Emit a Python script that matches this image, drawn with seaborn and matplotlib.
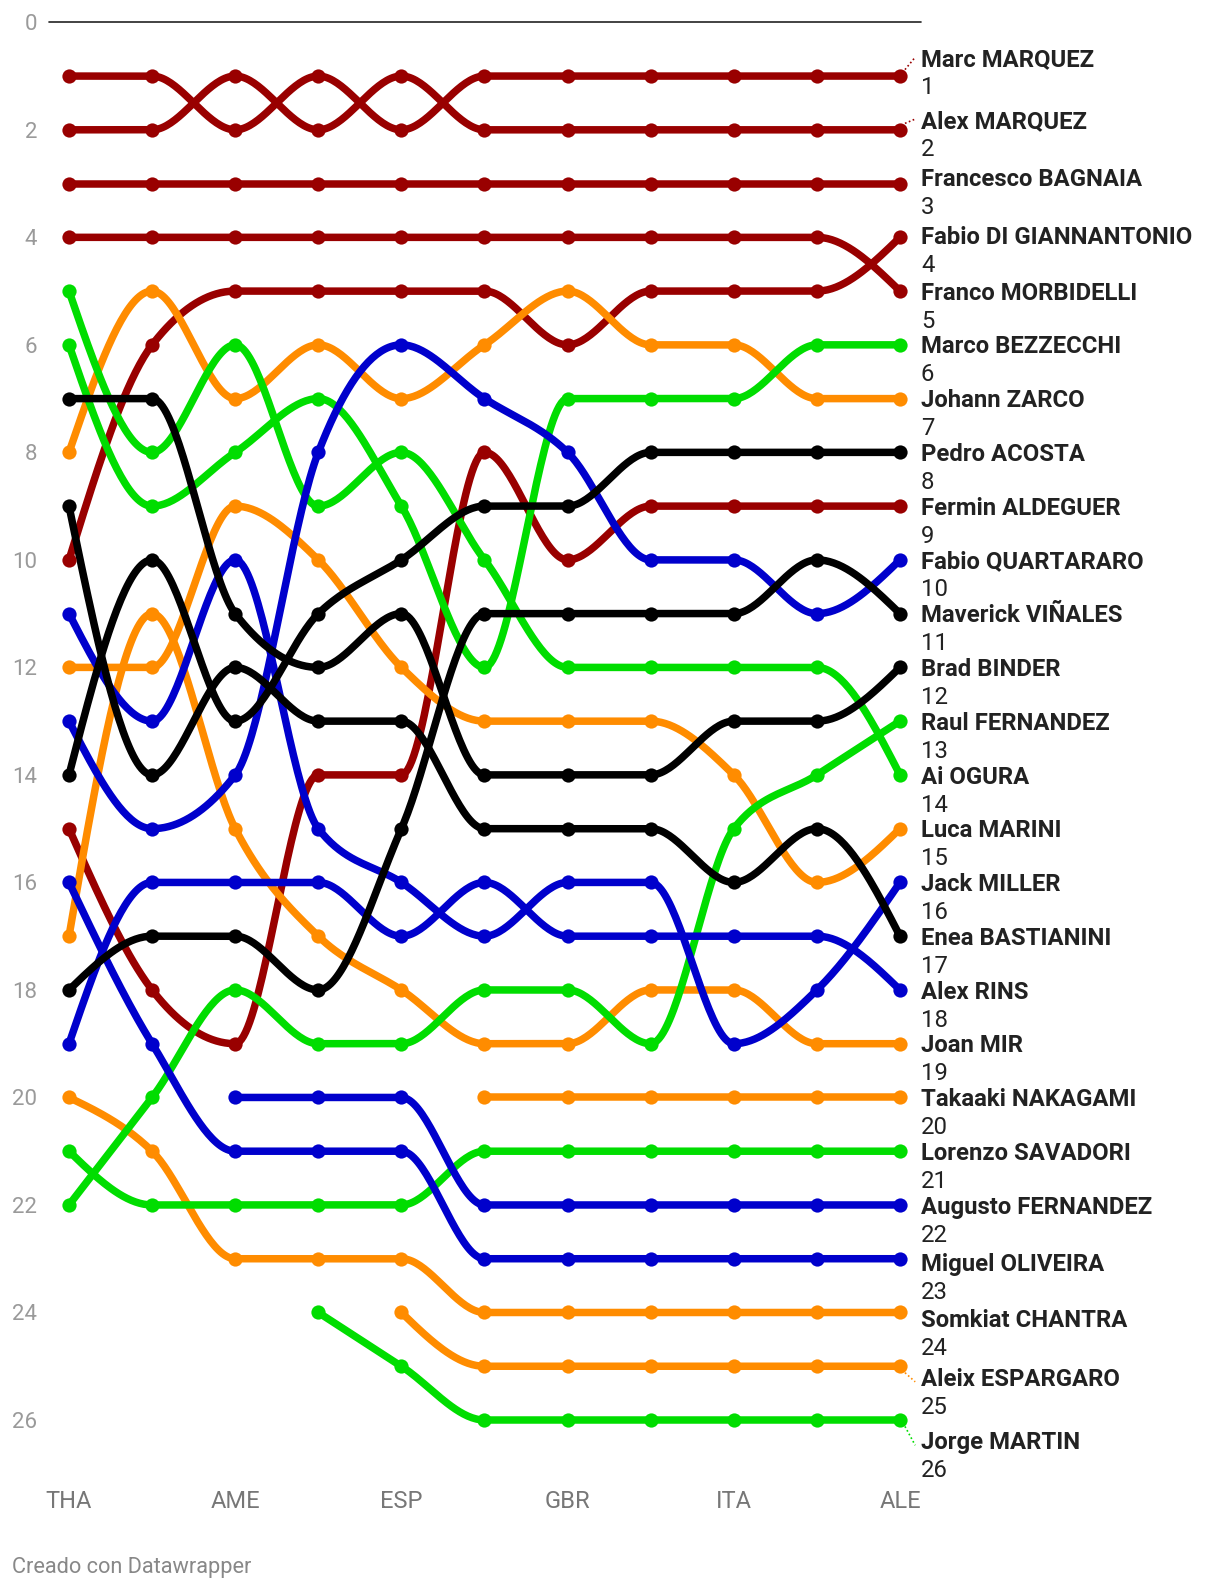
import numpy as np
import pandas as pd
import matplotlib
matplotlib.use("Agg")
import matplotlib.pyplot as plt
import seaborn as sns

N = np.nan
races = ["THA", "ARG", "AME", "QAT", "ESP", "FRA", "GBR", "ARA", "ITA", "NED", "ALE"]
shown_races = ["THA", "AME", "ESP", "GBR", "ITA", "ALE"]

marc_marquez          = [1, 1, 2, 1, 2, 1, 1, 1, 1, 1, 1]
alex_marquez          = [2, 2, 1, 2, 1, 2, 2, 2, 2, 2, 2]
francesco_bagnaia     = [3, 3, 3, 3, 3, 3, 3, 3, 3, 3, 3]
fabio_di_giannantonio = [10, 6, 5, 5, 5, 5, 6, 5, 5, 5, 4]
franco_morbidelli     = [4, 4, 4, 4, 4, 4, 4, 4, 4, 4, 5]
marco_bezzecchi       = [6, 9, 8, 7, 9, 12, 7, 7, 7, 6, 6]
johann_zarco          = [8, 5, 7, 6, 7, 6, 5, 6, 6, 7, 7]
pedro_acosta          = [14, 10, 13, 11, 10, 9, 9, 8, 8, 8, 8]
fermin_aldeguer       = [15, 18, 19, 14, 14, 8, 10, 9, 9, 9, 9]
fabio_quartararo      = [13, 15, 14, 8, 6, 7, 8, 10, 10, 11, 10]
maverick_vinales      = [18, 17, 17, 18, 15, 11, 11, 11, 11, 10, 11]
brad_binder           = [7, 7, 11, 12, 11, 14, 14, 14, 13, 13, 12]
raul_fernandez        = [22, 20, 18, 19, 19, 18, 18, 19, 15, 14, 13]
ai_ogura              = [5, 8, 6, 9, 8, 10, 12, 12, 12, 12, 14]
luca_marini           = [12, 12, 9, 10, 12, 13, 13, 13, 14, 16, 15]
jack_miller           = [11, 13, 10, 15, 16, 17, 16, 16, 19, 18, 16]
enea_bastianini       = [9, 14, 12, 13, 13, 15, 15, 15, 16, 15, 17]
alex_rins             = [19, 16, 16, 16, 17, 16, 17, 17, 17, 17, 18]
joan_mir              = [17, 11, 15, 17, 18, 19, 19, 18, 18, 19, 19]
takaaki_nakagami      = [N, N, N, N, N, 20, 20, 20, 20, 20, 20]
lorenzo_savadori      = [21, 22, 22, 22, 22, 21, 21, 21, 21, 21, 21]
augusto_fernandez     = [N, N, 20, 20, 20, 22, 22, 22, 22, 22, 22]
miguel_oliveira       = [16, 19, 21, 21, 21, 23, 23, 23, 23, 23, 23]
somkiat_chantra       = [20, 21, 23, 23, 23, 24, 24, 24, 24, 24, 24]
aleix_espargaro       = [N, N, N, N, 24, 25, 25, 25, 25, 25, 25]
jorge_martin          = [N, N, N, 24, 25, 26, 26, 26, 26, 26, 26]

rider_names = ["Marc MARQUEZ", "Alex MARQUEZ", "Francesco BAGNAIA", "Fabio DI GIANNANTONIO",
               "Franco MORBIDELLI", "Marco BEZZECCHI", "Johann ZARCO", "Pedro ACOSTA",
               "Fermin ALDEGUER", "Fabio QUARTARARO", "Maverick VIÑALES", "Brad BINDER",
               "Raul FERNANDEZ", "Ai OGURA", "Luca MARINI", "Jack MILLER", "Enea BASTIANINI",
               "Alex RINS", "Joan MIR", "Takaaki NAKAGAMI", "Lorenzo SAVADORI",
               "Augusto FERNANDEZ", "Miguel OLIVEIRA", "Somkiat CHANTRA", "Aleix ESPARGARO",
               "Jorge MARTIN"]
rider_teams = ["Ducati", "Ducati", "Ducati", "Ducati", "Ducati", "Aprilia", "Honda", "KTM",
               "Ducati", "Yamaha", "KTM", "KTM", "Aprilia", "Aprilia", "Honda", "Yamaha", "KTM",
               "Yamaha", "Honda", "Honda", "Aprilia", "Yamaha", "Yamaha", "Honda", "Honda",
               "Aprilia"]
rider_ranks = [marc_marquez, alex_marquez, francesco_bagnaia, fabio_di_giannantonio,
               franco_morbidelli, marco_bezzecchi, johann_zarco, pedro_acosta, fermin_aldeguer,
               fabio_quartararo, maverick_vinales, brad_binder, raul_fernandez, ai_ogura,
               luca_marini, jack_miller, enea_bastianini, alex_rins, joan_mir, takaaki_nakagami,
               lorenzo_savadori, augusto_fernandez, miguel_oliveira, somkiat_chantra,
               aleix_espargaro, jorge_martin]

team_colors = {"Ducati": "#990000", "Honda": "#ff8c00", "Aprilia": "#00dd00",
               "Yamaha": "#0000cc", "KTM": "#000000"}

# label vertical shifts (layout only, rank units) to avoid overlaps at the ends
label_shift = {1: -0.34, 2: -0.19, 3: -0.11, 4: -0.04, 23: 0.06, 24: 0.11, 25: 0.2, 26: 0.38}


def monotone_x(xs, ys, n=40):
    """d3 curveMonotoneX equivalent."""
    xs = np.asarray(xs, float)
    ys = np.asarray(ys, float)
    m = len(xs)
    if m < 3:
        return xs, ys
    h = np.diff(xs)
    s = np.diff(ys) / h
    t = np.zeros(m)
    for i in range(1, m - 1):
        s0, s1 = s[i - 1], s[i]
        p = (s0 * h[i] + s1 * h[i - 1]) / (h[i - 1] + h[i])
        t[i] = (np.sign(s0) + np.sign(s1)) * min(abs(s0), abs(s1), 0.5 * abs(p))
    t[0] = (3 * s[0] - t[1]) / 2
    t[-1] = (3 * s[-1] - t[-2]) / 2
    ox, oy = [], []
    for i in range(m - 1):
        u = np.linspace(0, 1, n, endpoint=(i == m - 2))
        h00 = 2 * u**3 - 3 * u**2 + 1
        h10 = u**3 - 2 * u**2 + u
        h01 = -2 * u**3 + 3 * u**2
        h11 = u**3 - u**2
        ox.append(xs[i] + u * h[i])
        oy.append(h00 * ys[i] + h10 * h[i] * t[i] + h01 * ys[i + 1] + h11 * h[i] * t[i + 1])
    return np.concatenate(ox), np.concatenate(oy)


curve_rows = []
point_rows = []
for name, team, ranks in zip(rider_names, rider_teams, rider_ranks):
    r = np.asarray(ranks, float)
    idx = np.where(~np.isnan(r))[0]
    xs = idx.astype(float)
    ys = r[idx]
    cx, cy = monotone_x(xs, ys)
    for a, b in zip(cx, cy):
        curve_rows.append({"rider": name, "team": team, "x": a, "y": b})
    for a, b in zip(xs, ys):
        point_rows.append({"rider": name, "team": team, "x": a, "y": b})
curves = pd.DataFrame(curve_rows)
points = pd.DataFrame(point_rows)

sns.set_theme(style="white")
plt.rcParams["font.family"] = ["Roboto", "DejaVu Sans"]

W, H = 1220, 1590
fig = plt.figure(figsize=(W / 100, H / 100), dpi=100)
left_px, right_px, top_px = 49, 921, 22.3
x0_px, x10_px = 69, 900
px_per_x = (x10_px - x0_px) / 10
px_per_rank = (1420 - top_px) / 26
ybottom = 26.6
bottom_px = top_px + ybottom * px_per_rank
ax = fig.add_axes([left_px / W, 1 - bottom_px / H, (right_px - left_px) / W,
                   (bottom_px - top_px) / H])

for team in team_colors:
    sub = curves[curves.team == team]
    sns.lineplot(data=sub, x="x", y="y", units="rider", estimator=None, sort=False,
                 color=team_colors[team], lw=5.4, ax=ax, legend=False,
                 solid_capstyle="round", solid_joinstyle="round")
    psub = points[points.team == team]
    sns.scatterplot(data=psub, x="x", y="y", color=team_colors[team], s=105,
                    linewidth=0, ax=ax, legend=False, zorder=3)

ax.set_xlim(-(x0_px - left_px) / px_per_x, -(x0_px - left_px) / px_per_x + (right_px - left_px) / px_per_x)
ax.set_ylim(ybottom, 0)
ax.axhline(0, color="#222222", lw=1.2, clip_on=False, zorder=1)

for s in ax.spines.values():
    s.set_visible(False)
ax.grid(False)
ax.set_xlabel("")
ax.set_ylabel("")
ax.set_yticks(list(range(0, 27, 2)))
ax.set_yticklabels([str(v) for v in range(0, 27, 2)])
ax.set_xticks([races.index(r) for r in shown_races])
ax.set_xticklabels(shown_races)
ax.tick_params(axis="y", length=0, pad=8.5, labelsize=16, labelcolor="#9a9a9a")
ax.tick_params(axis="x", length=0, pad=27, labelsize=17, labelcolor="#777777")

# right-hand labels
last_x = len(races) - 1
label_x = ax.get_xlim()[1]
for name, team, ranks in zip(rider_names, rider_teams, rider_ranks):
    fr = ranks[-1]
    shift = label_shift.get(int(fr), 0.0)
    ly = fr + shift + 0.04
    ax.text(label_x, ly, name, ha="left", va="center", fontsize=17.2, fontweight="bold",
            color="#222222", clip_on=False)
    ax.text(label_x, ly + 0.52, str(int(fr)), ha="left", va="center", fontsize=17.2,
            color="#222222", clip_on=False)
    if abs(shift) > 0.15:
        sg = np.sign(shift)
        ax.plot([last_x + 0.06, label_x - 0.07], [fr + 0.12 * sg, ly + 0.05 * sg],
                color=team_colors[team], lw=1.2, ls=(0, (1, 1.5)), clip_on=False)

fig.text(12 / W, 1 - 1568 / H, "Creado con Datawrapper", ha="left", va="center",
         fontsize=15.7, color="#888888")

fig.savefig("out.png", dpi=100)
